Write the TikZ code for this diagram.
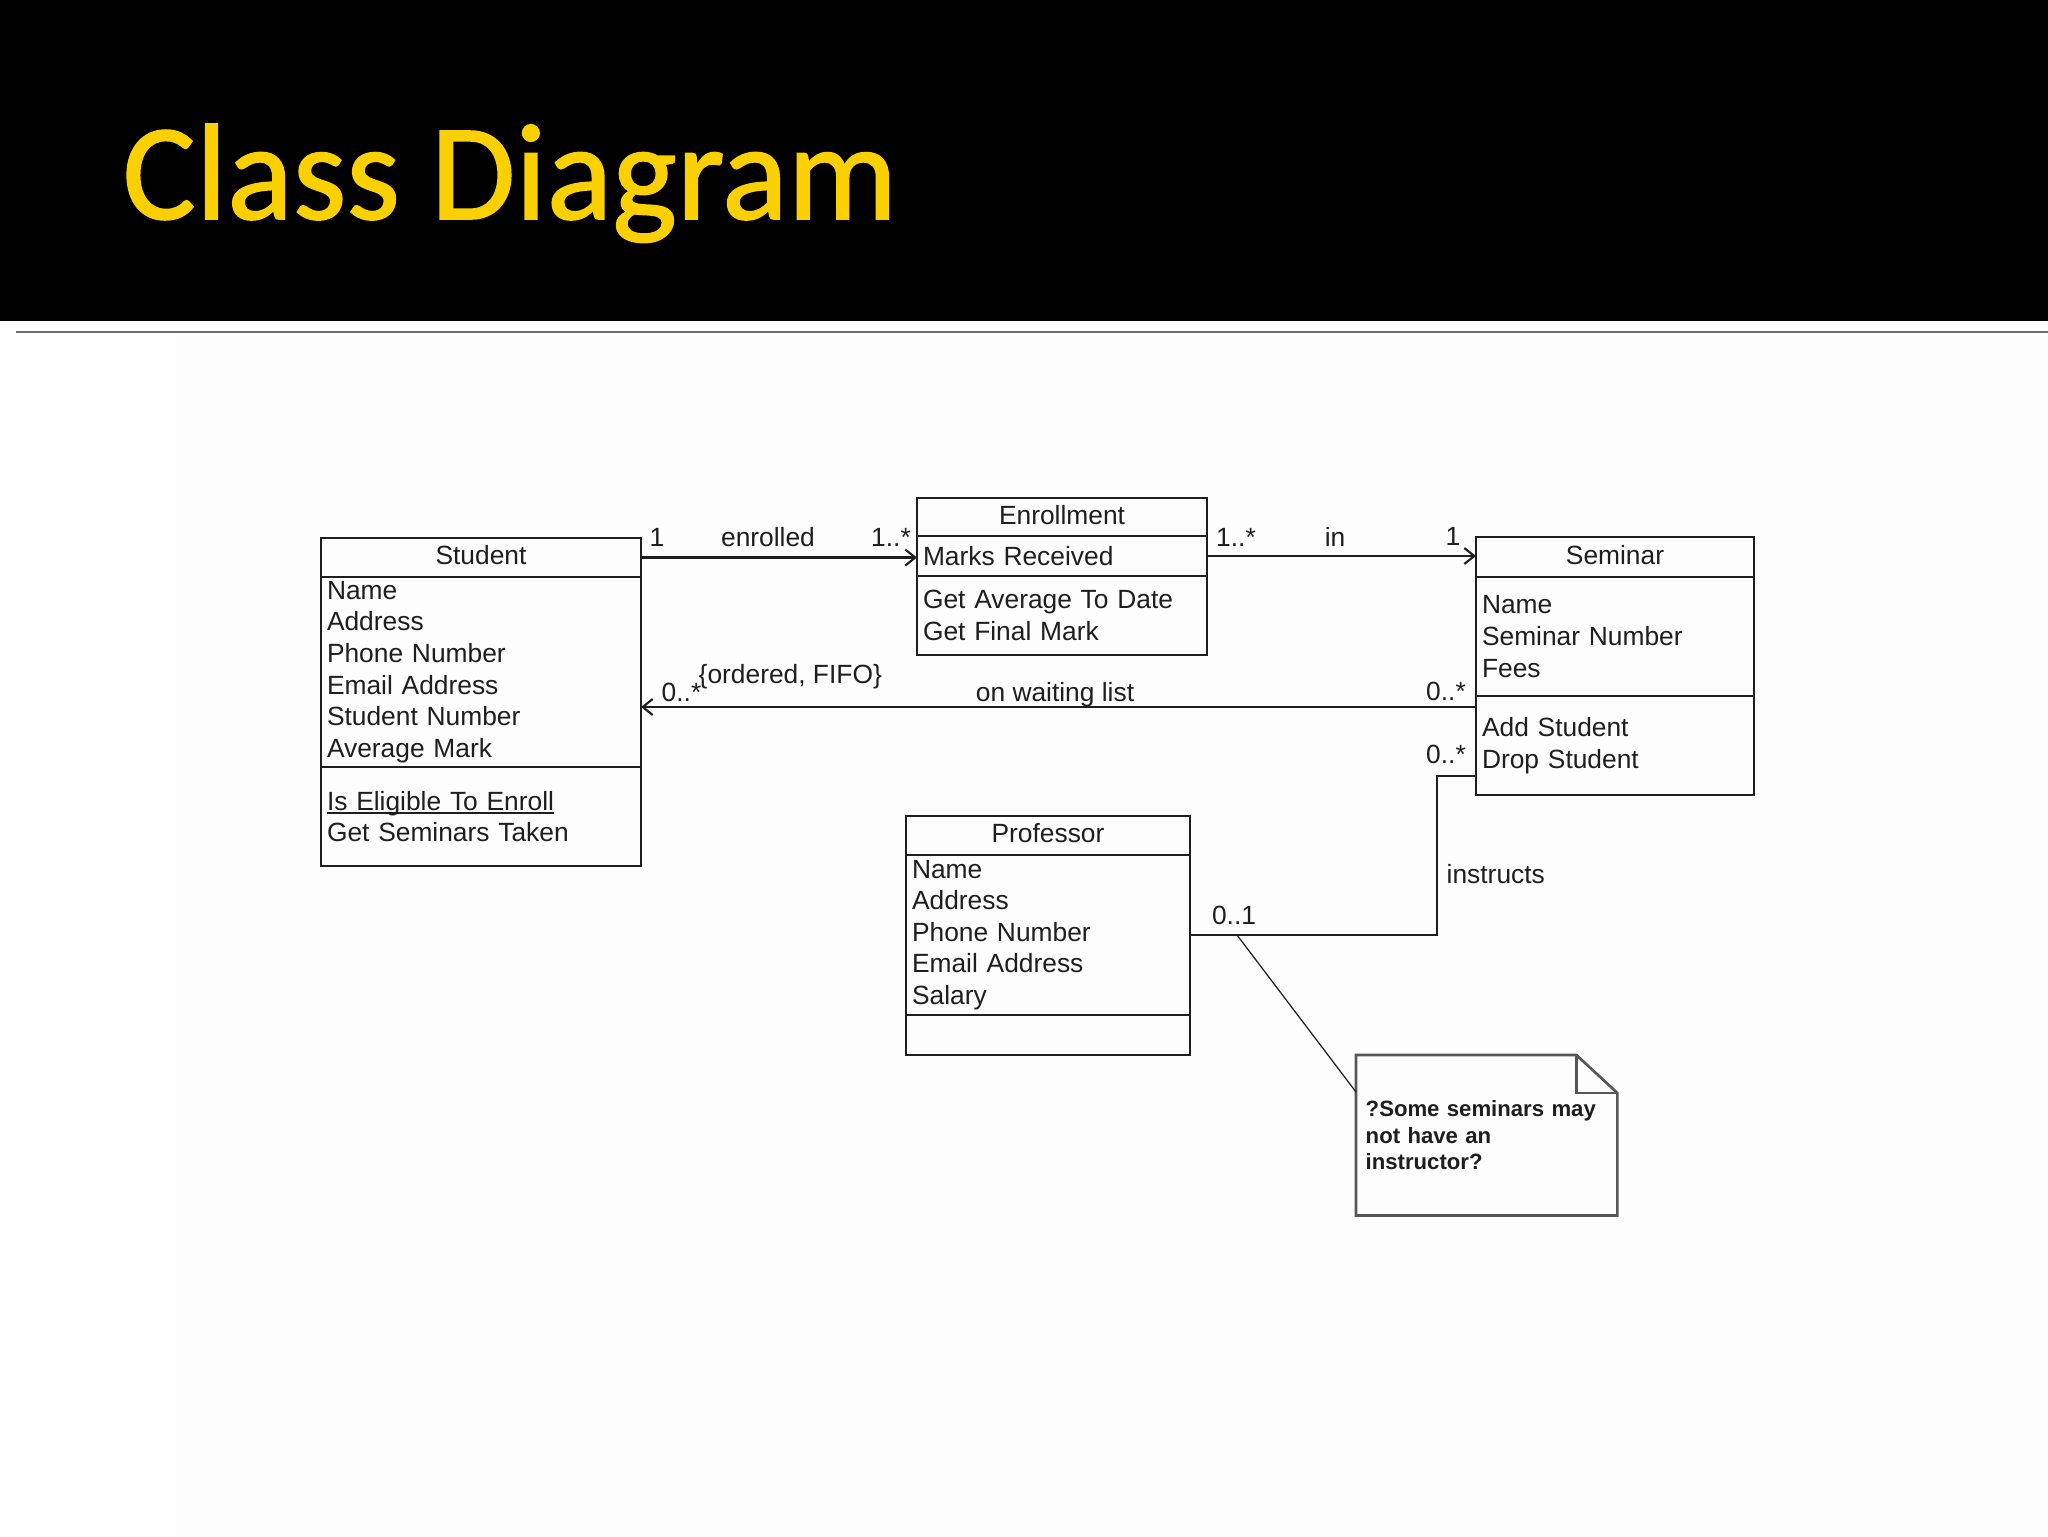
\documentclass[tikz,border=0pt]{standalone}
\usepackage{fontspec}
\setmainfont{Liberation Sans}
\newfontfamily\slidefont[FakeBold=1.2]{Carlito}
\usetikzlibrary{arrows.meta,positioning}
\definecolor{slidegold}{RGB}{250,208,0}
\definecolor{rulegrey}{RGB}{110,110,110}
\definecolor{paperwhite}{RGB}{253,253,254}
\definecolor{umlink}{RGB}{30,30,30}
% underline kept close to the baseline (class-scope operation)
\newcommand{\classop}[1]{\setbox0\hbox{#1}\rlap{\rule[-0.13em]{\wd0}{0.06em}}\box0}
\tikzset{
  umltext/.style={font=\fontsize{7.5}{9}\selectfont,text=umlink},
  classhead/.style={umltext,draw=umlink,line width=0.75pt,anchor=north west,
                    inner sep=0pt,outer sep=0pt,align=center,text depth=0.12em},
  compart/.style={umltext,draw=umlink,line width=0.75pt,anchor=north west,
                  inner xsep=0.6mm,inner ysep=0pt,outer sep=0pt,align=left},
  assoc/.style={umlink,line width=0.6pt},
  navig/.style={assoc,-{Straight Barb[length=1mm,width=1.6mm]}},
  mult/.style={umltext,anchor=base,inner sep=0pt},
  notebox/.style={draw=umlink!75,line width=0.75pt},
  notetext/.style={font=\bfseries\fontsize{6.3}{7.6}\selectfont,text=umlink,
                   align=left,inner ysep=0pt,anchor=north west},
  tether/.style={umlink,line width=0.35pt},
}

\begin{document}
\begin{tikzpicture}[x=0.1mm,y=-0.1mm]
  \path[use as bounding box] (0,0) rectangle (2048,1536);
  % slide background and title band
  \fill[white] (0,0) rectangle (2048,1536);
  \fill[paperwhite] (176,336) rectangle (2048,1536);
  \fill[black] (0,0) rectangle (2048,321);
  \draw[rulegrey,line width=0.25mm] (16,332) -- (2048,332);
  \node[font=\slidefont\fontsize{39}{39}\selectfont,text=slidegold,anchor=base west,inner sep=0pt]
    (title) at (122,219) {Class Diagram};

  % Student
  \node[classhead,minimum width=32mm,minimum height=3.9mm] (stuHead) at (321,538) {Student};
  \node[compart,text width=30.8mm,minimum height=19mm] (stuAttr) at (stuHead.south west)
    {Name\\Address\\Phone Number\\Email Address\\Student Number\\Average Mark};
  \node[compart,text width=30.8mm,minimum height=9.9mm] (stuOps) at (stuAttr.south west)
    {\classop{Is Eligible To Enroll}\\Get Seminars Taken};

  % Enrollment
  \node[classhead,minimum width=29mm,minimum height=3.8mm] (enrHead) at (917,498) {Enrollment};
  \node[compart,text width=27.8mm,minimum height=4mm] (enrAttr) at (enrHead.south west)
    {Marks Received};
  \node[compart,text width=27.8mm,minimum height=7.9mm] (enrOps) at (enrAttr.south west)
    {Get Average To Date\\Get Final Mark};

  % Seminar
  \node[classhead,minimum width=27.8mm,minimum height=4mm] (semHead) at (1476,537) {Seminar};
  \node[compart,text width=26.6mm,minimum height=11.9mm] (semAttr) at (semHead.south west)
    {Name\\Seminar Number\\Fees};
  \node[compart,text width=26.6mm,minimum height=9.9mm] (semOps) at (semAttr.south west)
    {Add Student\\Drop Student};

  % Professor
  \node[classhead,minimum width=28.4mm,minimum height=3.9mm] (profHead) at (906,816) {Professor};
  \node[compart,text width=27.2mm,minimum height=16mm] (profAttr) at (profHead.south west)
    {Name\\Address\\Phone Number\\Email Address\\Salary};
  \node[compart,text width=27.2mm,minimum height=4mm] (profOps) at (profAttr.south west) {};

  % note with folded corner
  \node[notetext,text width=24.2mm,minimum width=26mm,minimum height=15.9mm,inner xsep=0.9mm]
    (note) at (1356,1055) {?Some seminars may\\not have an\\instructor?};
  \draw[notebox] (note.north west) -- ([xshift=-4.1mm]note.north east)
    -- ([yshift=-3.8mm]note.north east) -- (note.south east) -- (note.south west) -- cycle;
  \draw[notebox] ([xshift=-4.1mm]note.north east) |- ([yshift=-3.8mm]note.north east);

  % associations
  \draw[navig] (stuHead.east) -- (stuHead.east -| enrAttr.west);
  \draw[navig] (enrAttr.east) -- (enrAttr.east -| semHead.west);
  \coordinate (waitEnd) at ([yshift=-1.1mm]semOps.north west);
  \draw[navig] (waitEnd) -- (waitEnd -| stuAttr.east);
  \coordinate (instrEnd) at ([yshift=-8mm]semOps.north west);
  \draw[assoc] (instrEnd) -- ++(-39,0) |- (profAttr.east);
  \coordinate (noteFoot) at ([xshift=4.7mm]profAttr.east);
  \draw[tether] (noteFoot) -- ([yshift=-3.7mm]note.north west);

  % role names and multiplicities
  \node[mult] (mEnrStu) at (657,546) {1};
  \node[mult] (lblEnrolled) at (768,546) {enrolled};
  \node[mult] (mEnrEnr) at (891,546) {1..*};
  \node[mult] (mInEnr) at (1236,546) {1..*};
  \node[mult] (lblIn) at (1335,546) {in};
  \node[mult] (mInSem) at (1453,545) {1};
  \node[mult,anchor=base west] (mWaitStu) at (661,701) {0..*};
  \node[mult,anchor=base west] (lblFifo) at (698,683) {\{ordered, FIFO\}};
  \node[mult] (lblWait) at (1055,701) {on waiting list};
  \node[mult] (mWaitSem) at (1446,700) {0..*};
  \node[mult] (mInstrSem) at (1446,763) {0..*};
  \node[mult,anchor=base west] (lblInstr) at (1446,883) {instructs};
  \node[mult] (mInstrProf) at (1234,924) {0..1};
\end{tikzpicture}
\end{document}
